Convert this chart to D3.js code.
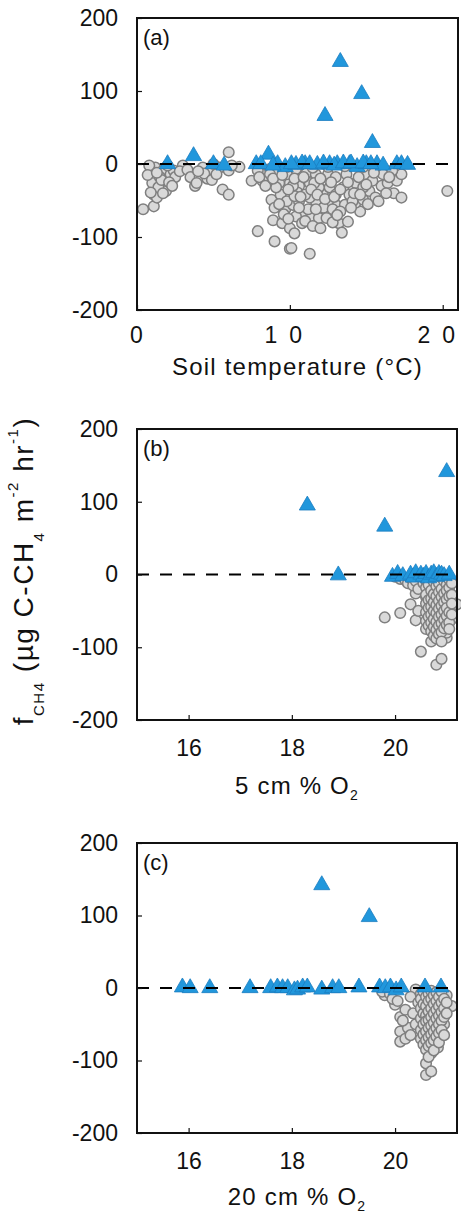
<!DOCTYPE html>
<html>
<head>
<meta charset="utf-8">
<script src="https://cdn.jsdelivr.net/npm/d3@7"></script>
<style>
  body { margin: 0; background: #fff; }
  text { font-family: "Liberation Sans", Arial, Helvetica, sans-serif; fill: #111; }
</style>
</head>
<body>
<div id="chart-area"></div>
<script>
// flux values (ug C-CH4 m-2 hr-1), as [x, flux] pairs
let fluxTicks = [-200, -100, 0, 100, 200];
let tempTicks = [0, 10, 20];
let o2Ticks = [16, 18, 20];

// (a) soil temperature
let tempGray = [
  [0.4,-62],[1.1,-58],[1.0,-26],[1.1,-42],[1.3,-46],[1.2,-5],[1.7,-9],[1.8,-28],[1.9,-37],[1.5,-18],
  [2.2,-14],[2.4,-9],[3.0,-2],[0.9,-9],[0.8,-2],[1.4,-32],[0.9,-39],[2.0,-2],[2.5,-18],[1.6,-22],[2.1,-25],
  [0.7,-15],[1.3,-12],[1.7,-40],[2.3,-30],[2.8,-10],[3.3,-8],
  [3.5,-18],[3.8,-30],[4.1,-18],[4.3,-5],[4.8,-9],[4.6,-20],[3.9,-26],[6.0,16],[5.6,-35],[6.0,-42],
  [5.4,-5],[6.0,-9],[6.7,-4],[5.0,0],[4.4,-13],[4.0,-10],[4.9,-22],[5.2,-14],[6.2,-2],
  [7.5,-23],[7.9,-92],[9.0,-106],[10.0,-116],[11.3,-123],[8.8,-49],[8.9,-77],[9.5,-81],[10.0,-88],[9.7,-62],
  [9.4,-42],[10.2,-56],[10.6,-30],[11.3,-26],[10.8,-65],[11.4,-74],[11.9,-74],[12.5,-70],[13.2,-81],[13.4,-94],
  [13.8,-79],[13.0,-56],[12.5,-51],[12.2,-37],[11.7,-51],[11.3,-46],[10.6,-51],[10.0,-26],[9.3,-26],[8.6,-23],
  [8.3,-14],[7.9,-9],[8.7,-7],[9.2,-9],[9.8,-14],[10.4,-7],[11.1,-12],[11.7,-14],[12.5,-14],[13.0,-18],
  [13.7,-14],[14.3,-26],[14.6,-65],[14.3,-53],[14.9,-14],[15.2,-37],[15.6,-46],[15.8,-51],[16.0,-30],[16.4,-26],
  [16.8,-40],[17.0,-23],[17.3,-46],[17.3,-14],[20.3,-37],[13.5,-32],[13.9,-42],[14.8,-32],[15.4,-23],[12.6,-32],
  [11.9,-32],[10.5,-39],[9.8,-51],[10.4,-72],[11.2,-62],[12.2,-60],[12.8,-62],[11.7,-62],[12.4,-74],[10.8,-81],
  [9.6,-69],[10.3,-44],[11.0,-42],[11.6,-26],[13.0,-42],[13.6,-56],[14.1,-51],[14.8,-49],[16.1,-14],[16.7,-9],
  [11.5,-5],[12.5,-4],[13.6,-3],[14.8,-4],[9.8,-4],[8.7,-14],[8.2,-23],[9.1,-32],[10.2,-30],[10.1,-115],
  [8.0,-18],[8.4,-30],[8.9,-20],[9.5,-15],[9.9,-35],[10.3,-20],[10.7,-45],[10.9,-18],[11.4,-35],[11.8,-42],
  [12.0,-20],[12.3,-48],[12.7,-25],[12.9,-45],[13.3,-35],[13.3,-65],[13.8,-25],[14.0,-60],[14.2,-40],[14.5,-18],
  [14.6,-42],[15.0,-28],[15.1,-55],[15.5,-12],[16.3,-40],[16.5,-18],[9.0,-60],[9.3,-55],[10.6,-60],[11.0,-78],
  [11.5,-85],[12.0,-88],[12.8,-80],[13.1,-70],[9.9,-75],[10.3,-95]
];
let tempBlue = [
  [13.3,140],[14.7,96],[12.3,66],[15.4,29],[3.7,11],[8.6,13],[2.0,0],[5.0,0],[5.7,-2],[7.8,0],
  [8.1,0],[9.2,0],[9.7,-4],[10.4,-1],[11.0,0],[11.8,-1],[12.6,0],[13.1,0],[13.9,0],[14.4,-4],
  [15.0,0],[15.7,0],[16.1,-2],[17.0,0],[17.3,0],[17.7,-1],[10.8,1],[11.3,0],[12.2,1],[12.9,-2],
  [13.5,1],[14.0,1],[14.8,1],[15.3,0],[8.9,-2],[10.1,0]
];

// (b) 5 cm % O2
let o2_5Gray = [
  [19.8,-59],[20.1,-53],[20.3,-41],[20.4,-63],[20.4,-26],[20.5,-106],[20.7,-92],[20.8,-124],[20.9,-116],[21.0,-87],
  [21.0,-80],[21.2,-41],[21.1,-61],[20.45,-50],[20.6,-31],
  [20.0,-3],[20.1,-6],[20.2,-8],[20.25,-12],[20.3,-5],[20.35,-15],[20.4,-9],[20.45,-20],[20.5,-4],[20.55,-12],
  [20.6,-8],[20.6,-18],[20.6,-28],[20.6,-40],[20.6,-52],[20.6,-64],[20.6,-75],
  [20.65,-14],[20.65,-35],[20.65,-46],[20.65,-58],[20.65,-70],
  [20.7,-5],[20.7,-22],[20.7,-33],[20.7,-44],[20.7,-55],[20.7,-66],[20.7,-78],
  [20.75,-10],[20.75,-27],[20.75,-38],[20.75,-50],[20.75,-61],[20.75,-72],[20.75,-84],
  [20.8,-6],[20.8,-16],[20.8,-30],[20.8,-42],[20.8,-53],[20.8,-65],[20.8,-76],[20.8,-88],
  [20.85,-12],[20.85,-24],[20.85,-36],[20.85,-47],[20.85,-58],[20.85,-70],[20.85,-82],
  [20.9,-4],[20.9,-20],[20.9,-31],[20.9,-43],[20.9,-55],[20.9,-67],[20.9,-79],[20.9,-92],
  [20.95,-9],[20.95,-26],[20.95,-38],[20.95,-50],[20.95,-62],[20.95,-74],
  [21.0,-14],[21.0,-22],[21.0,-34],[21.0,-46],[21.0,-57],[21.0,-69],
  [21.05,-7],[21.05,-18],[21.05,-30],[21.05,-52],[21.05,-66],[21.05,-75],
  [21.1,-12],[21.1,-28],[21.1,-40],[21.1,-55]
];
let o2_5Blue = [
  [21.0,141],[18.3,95],[19.8,66],[18.9,-1],
  [19.95,-3],[20.05,1],[20.15,-2],[20.3,0],[20.35,-4],[20.4,2],[20.5,0],[20.55,-3],[20.6,1],[20.65,-5],
  [20.7,0],[20.75,2],[20.8,-3],[20.85,1],[20.9,0],[20.95,-2],[21.05,0]
];

// (c) 20 cm % O2
let o2_20Gray = [
  [19.8,-10],[19.75,-5],[19.9,-8],[20.0,-23],[19.95,-15],[20.1,-40],[20.1,-60],[20.1,-74],[20.25,-55],[20.2,-70],
  [20.4,-50],[20.6,-104],[20.6,-120],[20.7,-115],[20.7,-90],[20.83,-82],[21.1,-25],[20.95,-50],[21.0,-10],[20.4,-2],
  [20.3,-12],[20.2,-30],[20.35,-35],[20.45,-20],[20.5,-8],[20.15,-45],[20.3,-65],[20.05,-18],
  [20.5,-15],[20.5,-28],[20.5,-42],[20.5,-58],[20.5,-70],
  [20.55,-5],[20.55,-22],[20.55,-35],[20.55,-50],[20.55,-64],[20.55,-78],
  [20.6,-12],[20.6,-25],[20.6,-38],[20.6,-46],[20.6,-60],[20.6,-72],[20.6,-85],
  [20.65,-8],[20.65,-18],[20.65,-32],[20.65,-44],[20.65,-55],[20.65,-68],[20.65,-80],[20.65,-95],
  [20.7,-4],[20.7,-15],[20.7,-28],[20.7,-40],[20.7,-52],[20.7,-64],[20.7,-76],
  [20.75,-10],[20.75,-22],[20.75,-35],[20.75,-48],[20.75,-60],[20.75,-72],[20.75,-86],
  [20.8,-6],[20.8,-18],[20.8,-30],[20.8,-42],[20.8,-55],[20.8,-67],
  [20.85,-12],[20.85,-25],[20.85,-38],[20.85,-50],[20.85,-62],[20.85,-75],
  [20.9,-5],[20.9,-20],[20.9,-33],[20.9,-45],[20.9,-58],
  [20.95,-15],[20.95,-28],[20.95,-40],[20.95,-65],
  [21.0,-20],[21.0,-35]
];
let o2_20Blue = [
  [18.58,142],[19.5,98],
  [15.88,1],[16.03,0],[16.41,0],[17.19,0],[17.59,0],[17.72,1],[17.82,0],[17.92,0],[18.05,-3],[18.11,-2],
  [18.21,1],[18.3,1],[18.58,-2],[18.79,0],[18.91,0],[19.3,1],[19.7,1],[19.81,0],[19.91,1],[20.02,-3],
  [20.12,1],[20.58,1],[20.89,1]
];

let left = 137;
let panels = [
  { tag: '(a)', top: 18, bottom: 310, right: 458, xDomain: [0, 21], ticks: tempTicks, pad: 17, labY: 65,
    gray: tempGray, blue: tempBlue, label: [['Soil temperature (°C)', 0]], spaced: true },
  { tag: '(b)', top: 429, bottom: 720, right: 457, xDomain: [15, 21.2], ticks: o2Ticks, pad: 20, labY: 74,
    gray: o2_5Gray, blue: o2_5Blue, label: [['5 cm % O', 0], ['2', 1]] },
  { tag: '(c)', top: 843, bottom: 1133, right: 457, xDomain: [15, 21.2], ticks: o2Ticks, pad: 20, labY: 72,
    gray: o2_20Gray, blue: o2_20Blue, label: [['20 cm % O', 0], ['2', 1]] }
];

let svg = d3.select('#chart-area').append('svg')
  .attr('width', 461)
  .attr('height', 1217);

panels.forEach(p => {
  let x = d3.scaleLinear().domain(p.xDomain).range([left, p.right]);
  let y = d3.scaleLinear().domain([-200, 200]).range([p.bottom, p.top]);
  let g = svg.append('g');

  g.selectAll('circle')
    .data(p.gray)
    .enter()
    .append('circle')
    .attr('cx', d => x(d[0]))
    .attr('cy', d => y(d[1]))
    .attr('r', 5.3)
    .attr('fill', '#d9d9d9')
    .attr('stroke', '#7f7f7f')
    .attr('stroke-width', 1.5);

  g.selectAll('path.tri')
    .data(p.blue)
    .enter()
    .append('path')
    .attr('class', 'tri')
    .attr('d', d3.symbol(d3.symbolTriangle, 112))
    .attr('transform', d => `translate(${x(d[0])}, ${y(d[1])})`)
    .attr('fill', '#2197dc')
    .attr('stroke', '#1b7cc0')
    .attr('stroke-width', 0.8);

  // zero line
  g.append('line')
    .attr('x1', left).attr('x2', p.right)
    .attr('y1', y(0)).attr('y2', y(0))
    .attr('stroke', '#000')
    .attr('stroke-width', 2.2)
    .attr('stroke-dasharray', '12,11');

  g.append('rect')
    .attr('x', left).attr('y', p.top)
    .attr('width', p.right - left).attr('height', p.bottom - p.top)
    .attr('fill', 'none')
    .attr('stroke', '#111')
    .attr('stroke-width', 2);

  let yAxis = g.append('g')
    .attr('transform', `translate(${left}, 0)`)
    .call(d3.axisLeft(y).tickValues(fluxTicks).tickFormat(d => String(d))
      .tickSizeInner(-5).tickSizeOuter(0).tickPadding(19));
  yAxis.select('.domain').remove();
  yAxis.selectAll('line').attr('stroke', '#111').attr('stroke-width', 1.2);
  yAxis.selectAll('text').attr('fill', '#111').style('font-size', '23px');

  let xAxis = g.append('g')
    .attr('transform', `translate(0, ${p.bottom})`)
    .call(d3.axisBottom(x).tickValues(p.ticks).tickFormat(d => String(d))
      .tickSizeInner(-5).tickSizeOuter(0).tickPadding(p.pad));
  xAxis.select('.domain').remove();
  xAxis.selectAll('line').attr('stroke', '#111').attr('stroke-width', 1.2);
  xAxis.selectAll('text').attr('fill', '#111').style('font-size', '23px');

  // panel (a) tick labels are printed with wide digit spacing
  if (p.spaced) {
    xAxis.selectAll('text').each(function(d) {
      let t = d3.select(this);
      let s = String(d);
      t.text(null);
      s.split('').forEach((ch, i) => {
        let shift = s.length > 1 ? -7 : -1;
        t.append('tspan').attr('dx', i > 0 ? 12 : shift).text(ch);
      });
    });
  }

  let lab = g.append('text')
    .attr('x', (left + p.right) / 2)
    .attr('y', p.bottom + p.labY)
    .attr('text-anchor', 'middle')
    .style('font-size', '24px')
    .style('letter-spacing', '1.2px');
  p.label.forEach(part => {
    lab.append('tspan')
      .attr('dy', part[1] ? 6 : 0)
      .style('font-size', part[1] ? '14px' : '24px')
      .text(part[0]);
  });

  g.append('text')
    .attr('x', left + 6)
    .attr('y', p.top + 27)
    .style('font-size', '22px')
    .text(p.tag);
});

// shared y label
let yl = svg.append('text')
  .attr('transform', 'translate(33, 571) rotate(-90)')
  .attr('text-anchor', 'middle')
  .style('font-size', '28px')
  .style('letter-spacing', '1.5px');
let yParts = [['f', 0, 28], ['CH4', 11, 15], [' (µg C-CH', -11, 28], ['4', 11, 15], [' m', -11, 28],
  ['-2', -15, 15], [' hr', 15, 28], ['-1', -15, 15], [')', 15, 28]];
yParts.forEach(part => {
  yl.append('tspan')
    .attr('dy', part[1])
    .style('font-size', part[2] + 'px')
    .text(part[0]);
});
</script>
</body>
</html>
